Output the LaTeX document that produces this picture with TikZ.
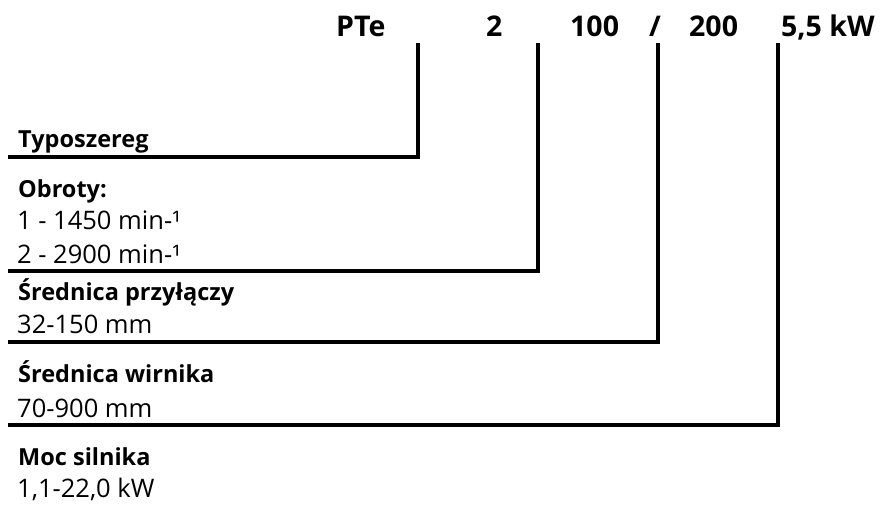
\documentclass[tikz,border=0pt]{standalone}
\usepackage{fontspec}
\setmainfont{Open Sans}
\begin{document}
\begin{tikzpicture}[x=1pt,y=-1pt,
  code/.style={anchor=base west,inner sep=0pt,font=\fontsize{28.5}{32}\selectfont\bfseries},
  head/.style={anchor=base west,inner sep=0pt,font=\fontsize{23.5}{26}\selectfont\bfseries},
  val/.style={anchor=base west,inner sep=0pt,font=\fontsize{25.5}{28}\selectfont},
  link/.style={line width=4pt,line join=miter}]
\useasboundingbox (0,0) rectangle (887,504);
% top code
\node[code] (pte) at (336,36) {PTe};
\node[code] (n2) at (486,36) {2};
\node[code] (n100) at (570,36) {100};
\node[code] (sl) at (649,36) {/};
\node[code] (n200) at (689,36) {200};
\node[code] (kw) at (781,36) {5,5 kW};
% left labels
\node[head] (typ) at (18,147) {Typoszereg};
\node[head] (obr) at (18,197) {Obroty:};
\node[val] (o1) at (17,229) {1 - 1450 min-¹};
\node[val] (o2) at (17,263) {2 - 2900 min-¹};
\node[head] (sp) at (18,300) {Średnica przyłączy};
\node[val] (spv) at (17,333) {32-150 mm};
\node[head] (sw) at (18,382) {Średnica wirnika};
\node[val] (swv) at (17,417) {70-900 mm};
\node[head] (ms) at (18,465) {Moc silnika};
\node[val] (msv) at (17,497) {1,1-22,0 kW};
% connectors
\coordinate (t1) at (418,43);  \coordinate (e1) at (8,157);
\coordinate (t2) at (538,43);  \coordinate (e2) at (8,271);
\coordinate (t3) at (658,43);  \coordinate (e3) at (8,342);
\coordinate (t4) at (778,43);  \coordinate (e4) at (8,425);
\draw[link] (t1) |- (e1);
\draw[link] (t2) |- (e2);
\draw[link] (t3) |- (e3);
\draw[link] (t4) |- (e4);
\end{tikzpicture}
\end{document}
